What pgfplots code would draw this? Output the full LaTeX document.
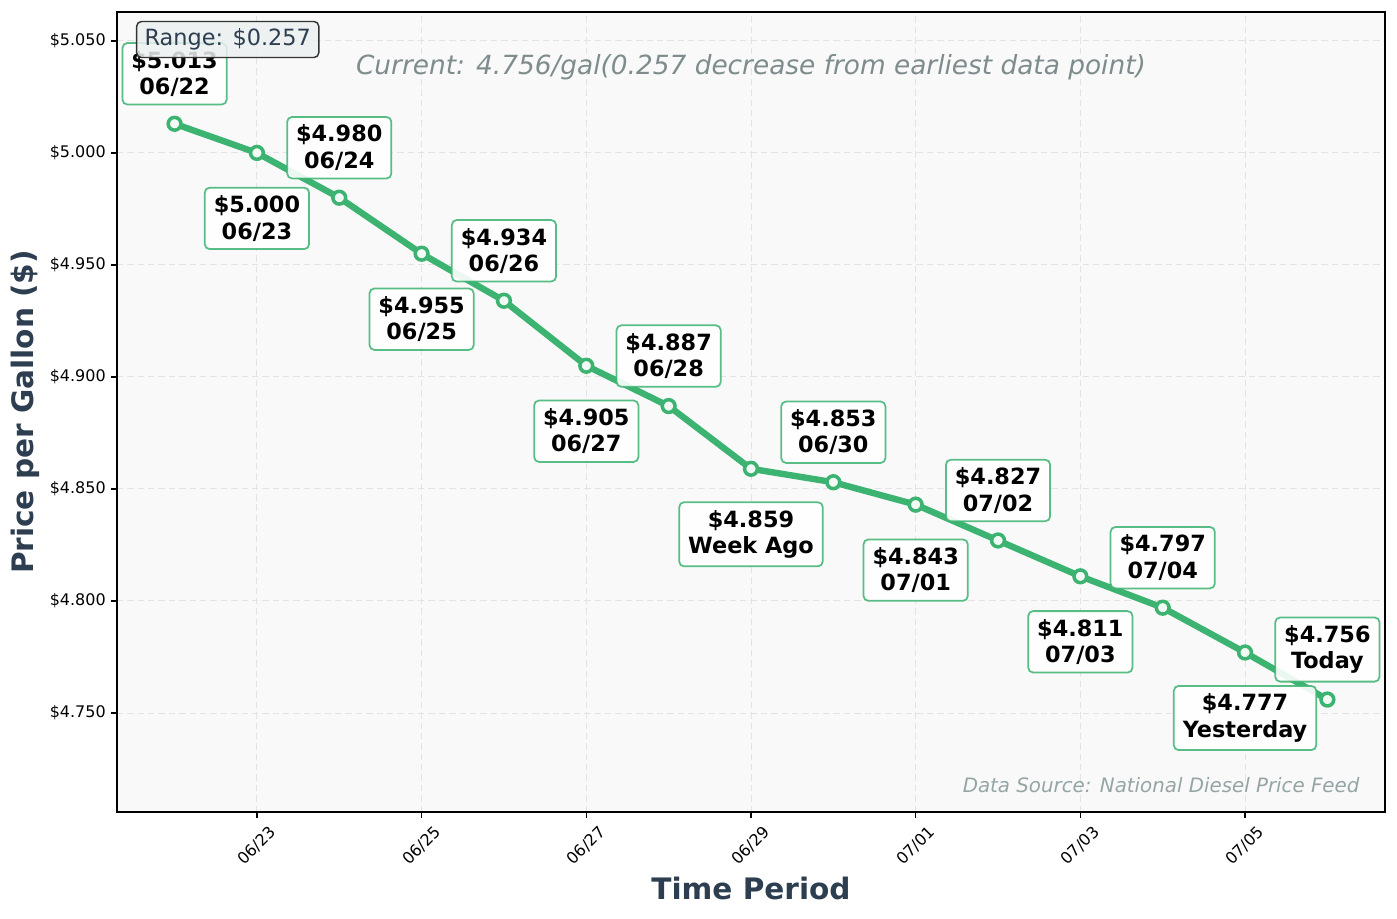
\documentclass[border=0pt]{standalone}
\usepackage{fontspec}
\setmainfont{DejaVu Sans}
\usepackage{pgfplots}
\usepackage{pgfplotstable}
\pgfplotsset{compat=1.18}

\definecolor{linegreen}{RGB}{60,179,113}
\definecolor{slate}{HTML}{2C3E50}
\definecolor{titlegray}{HTML}{7F8C8D}
\definecolor{srcgray}{HTML}{95A5A6}
\definecolor{rangefill}{HTML}{ECF0F1}
\definecolor{panel}{HTML}{F9F9F9}

% daily diesel price, day 0 = 06/22
\pgfplotstableread[col sep=comma]{
day,price,lbl
0,5.013,06/22
1,5.000,06/23
2,4.980,06/24
3,4.955,06/25
4,4.934,06/26
5,4.905,06/27
6,4.887,06/28
7,4.859,Week Ago
8,4.853,06/30
9,4.843,07/01
10,4.827,07/02
11,4.811,07/03
12,4.797,07/04
13,4.777,Yesterday
14,4.756,Today
}\prices

\pgfplotsset{
  pricelabel/.style={
    draw=none, no marks,
    point meta=explicit symbolic,
    visualization depends on={y \as \price},
    nodes near coords={\$\pgfmathprintnumber[fixed,fixed zerofill,precision=3,assume math mode=true]{\price}\\\pgfplotspointmeta},
    every node near coord/.append style={
      anchor=center, align=center, text=black,
      font=\bfseries\fontsize{14}{16.5}\selectfont,
      fill=white, fill opacity=0.9, text opacity=1,
      draw=linegreen, draw opacity=0.85, line width=1.1pt,
      rounded corners=3pt, inner xsep=5.6pt, inner ysep=5pt},
  },
}

\begin{document}
\begin{tikzpicture}
\begin{axis}[
  set layers,
  scale only axis,
  width=793.8pt, height=500.8pt,
  xmin=-0.7, xmax=14.7,
  ymin=4.7058, ymax=5.0629,
  axis background/.style={fill=panel},
  axis line style={black, line width=0.9pt},
  tick pos=left, tick align=outside,
  major tick length=3.5pt,
  tick style={black, line width=0.8pt},
  xtick={1,3,5,7,9,11,13},
  xticklabels={06/23,06/25,06/27,06/29,07/01,07/03,07/05},
  ytick={4.75,4.80,4.85,4.90,4.95,5.00,5.05},
  yticklabels={\$4.750,\$4.800,\$4.850,\$4.900,\$4.950,\$5.000,\$5.050},
  ticklabel style={font=\fontsize{10}{12}\selectfont, text=black},
  xticklabel style={anchor=center, yshift=-17.5pt, rotate=45},
  grid=major,
  grid style={gray!22, line width=0.6pt, dash pattern=on 4pt off 2.5pt},
  xlabel={Time Period},
  ylabel={Price per Gallon (\$)},
  label style={font=\bfseries\fontsize{18.5}{22}\selectfont, text=slate},
  xlabel style={at={(axis description cs:0.5,-0.096)}, anchor=center},
  ylabel style={at={(axis description cs:-0.0726,0.5)}, anchor=center},
]
\coordinate (LL) at (rel axis cs:0,0);
\coordinate (UR) at (rel axis cs:1,1);

\addplot[linegreen, line width=4pt, mark=*, mark size=4pt,
  every mark/.append style={fill=linegreen!7!white, draw=linegreen, line width=2.2pt}]
  table[x=day, y=price]{\prices};

% labels above the even days, below the odd days
\addplot[pricelabel, x filter/.expression={mod(x,2)==0 ? x : nan},
  every node near coord/.append style={yshift=31.3pt}]
  table[x=day, y=price, meta=lbl]{\prices};
\addplot[pricelabel, x filter/.expression={mod(x,2)==1 ? x : nan},
  every node near coord/.append style={yshift=-41pt}]
  table[x=day, y=price, meta=lbl]{\prices};

\node[anchor=center, text=titlegray, font=\itshape\fontsize{16.5}{20}\selectfont]
  at (rel axis cs:0.5,0.931) {Current: 4.756/gal(0.257 decrease from earliest data point)};
\node[anchor=south east, inner sep=0pt, text=srcgray, font=\itshape\fontsize{12.4}{14}\selectfont]
  at (rel axis cs:0.98,0.024) {Data Source: National Diesel Price Feed};
\begin{pgfonlayer}{axis foreground}
\node[anchor=north west, fill=rangefill, fill opacity=0.85, text opacity=1,
  draw=black!80, rounded corners=3pt, line width=0.9pt,
  inner xsep=5pt, inner ysep=4.5pt, text=slate, font=\fontsize{14}{17}\selectfont]
  at (rel axis cs:0.015,0.989) {Range: \$0.257};
\end{pgfonlayer}
\end{axis}
\pgfresetboundingbox
\path ([xshift=-73.2pt,yshift=-66.4pt]LL) rectangle ([xshift=7.5pt,yshift=7.5pt]UR);
\end{tikzpicture}
\end{document}
